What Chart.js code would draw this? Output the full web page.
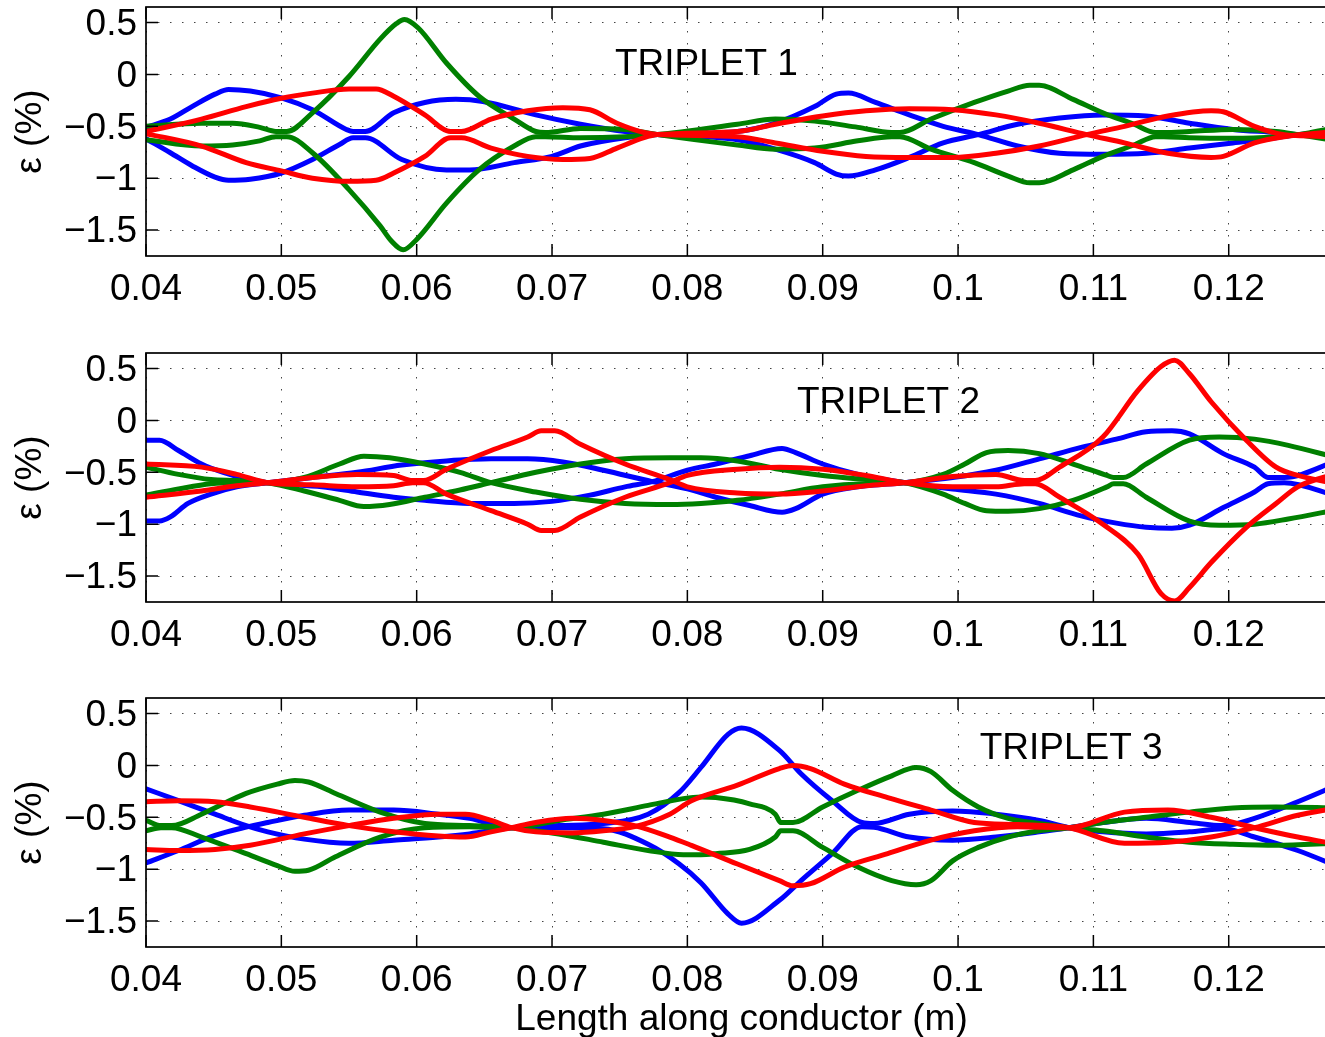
<!DOCTYPE html>
<html lang="en">
<head>
<meta charset="UTF-8">
<title>Strain along conductor</title>
<script src="https://cdn.jsdelivr.net/npm/chart.js"></script>
<style>
  html, body { margin: 0; padding: 0; background: #fff; overflow: hidden; }
  .panel { position: absolute; left: 0; width: 1337px; height: 346px; }
</style>
</head>
<body>
<div class="panel" style="top:0px"><canvas id="c1"></canvas></div>
<div class="panel" style="top:346px"><canvas id="c2"></canvas></div>
<div class="panel" style="top:691px"><canvas id="c3"></canvas></div>
<script>
// axis ticks shared by all three panels
const xTicks = [0.04, 0.05, 0.06, 0.07, 0.08, 0.09, 0.1, 0.11, 0.12];
const xTickLabels = ['0.04', '0.05', '0.06', '0.07', '0.08', '0.09', '0.1', '0.11', '0.12'];
const yTicks = [0.5, 0, -0.5, -1, -1.5];
const yTickLabels = ['0.5', '0', '\u22120.5', '\u22121', '\u22121.5'];
const xMin = 0.04, xMax = 0.128;
const yMin = -1.75, yMax = 0.65;

// triplet 1: [length (m), strain (%)]
const t1Blue1 = [[0.04,-0.51],[0.0418,-0.43],[0.0434,-0.31],[0.0451,-0.19],[0.0461,-0.145],[0.0477,-0.16],[0.05,-0.225],[0.0523,-0.34],[0.0548,-0.53],[0.0553,-0.55],[0.0562,-0.55],[0.0583,-0.37],[0.0606,-0.27],[0.0629,-0.24],[0.0649,-0.26],[0.0688,-0.39],[0.0721,-0.48],[0.0754,-0.55],[0.0778,-0.58],[0.0837,-0.63],[0.0865,-0.72],[0.0894,-0.85],[0.091,-0.96],[0.0919,-0.98],[0.0939,-0.92],[0.0964,-0.8],[0.0989,-0.66],[0.1015,-0.58],[0.1044,-0.48],[0.1075,-0.42],[0.1107,-0.39],[0.1139,-0.4],[0.1171,-0.47],[0.1203,-0.53],[0.1235,-0.56],[0.1251,-0.58],[0.128,-0.6]];
const t1Blue2 = [[0.04,-0.62],[0.0418,-0.755],[0.0434,-0.88],[0.0451,-0.99],[0.0461,-1.02],[0.0477,-1.01],[0.05,-0.95],[0.0523,-0.82],[0.0543,-0.675],[0.0553,-0.61],[0.0562,-0.61],[0.0589,-0.82],[0.0622,-0.92],[0.0639,-0.92],[0.0672,-0.85],[0.07,-0.79],[0.0721,-0.69],[0.0754,-0.61],[0.0778,-0.58],[0.0837,-0.55],[0.0865,-0.47],[0.0894,-0.31],[0.091,-0.19],[0.0919,-0.18],[0.0939,-0.27],[0.0964,-0.39],[0.0989,-0.5],[0.1015,-0.58],[0.1044,-0.69],[0.1075,-0.76],[0.1107,-0.77],[0.1139,-0.76],[0.1171,-0.71],[0.1203,-0.66],[0.1235,-0.61],[0.1251,-0.58],[0.128,-0.55]];
const t1Green1 = [[0.04,-0.5],[0.0441,-0.47],[0.0464,-0.47],[0.0484,-0.51],[0.0496,-0.55],[0.0504,-0.55],[0.0523,-0.37],[0.055,-0.02],[0.0573,0.34],[0.0585,0.49],[0.0591,0.53],[0.0601,0.45],[0.0622,0.11],[0.0646,-0.21],[0.0672,-0.43],[0.0688,-0.55],[0.0695,-0.56],[0.0721,-0.52],[0.0754,-0.53],[0.0778,-0.58],[0.0837,-0.68],[0.0865,-0.72],[0.0894,-0.71],[0.0926,-0.64],[0.0951,-0.6],[0.0957,-0.6],[0.098,-0.72],[0.1012,-0.85],[0.1037,-0.98],[0.1053,-1.045],[0.106,-1.045],[0.1085,-0.92],[0.1107,-0.79],[0.113,-0.68],[0.1146,-0.6],[0.1152,-0.6],[0.1171,-0.61],[0.1203,-0.615],[0.1235,-0.6],[0.1251,-0.58],[0.128,-0.51]];
const t1Green2 = [[0.04,-0.63],[0.0441,-0.69],[0.0464,-0.68],[0.0484,-0.64],[0.0496,-0.6],[0.0504,-0.6],[0.0523,-0.755],[0.055,-1.11],[0.0573,-1.46],[0.0581,-1.6],[0.059,-1.69],[0.06,-1.59],[0.0622,-1.24],[0.0646,-0.92],[0.0672,-0.69],[0.0688,-0.6],[0.0695,-0.6],[0.0721,-0.61],[0.0754,-0.6],[0.0778,-0.58],[0.0837,-0.48],[0.0865,-0.43],[0.0894,-0.45],[0.0926,-0.51],[0.0951,-0.56],[0.0957,-0.56],[0.098,-0.43],[0.1012,-0.27],[0.1037,-0.16],[0.1053,-0.105],[0.106,-0.105],[0.1085,-0.24],[0.1107,-0.37],[0.113,-0.48],[0.1146,-0.56],[0.1152,-0.56],[0.1171,-0.55],[0.1203,-0.53],[0.1235,-0.55],[0.1251,-0.58],[0.128,-0.64]];
const t1Red1 = [[0.04,-0.55],[0.0441,-0.43],[0.0474,-0.31],[0.05,-0.23],[0.0523,-0.18],[0.055,-0.14],[0.057,-0.14],[0.0583,-0.21],[0.0606,-0.39],[0.0625,-0.55],[0.0633,-0.55],[0.0655,-0.43],[0.0682,-0.35],[0.0708,-0.32],[0.0728,-0.34],[0.0748,-0.47],[0.0768,-0.56],[0.0778,-0.58],[0.0837,-0.6],[0.0865,-0.66],[0.09,-0.74],[0.0932,-0.79],[0.0964,-0.8],[0.0996,-0.8],[0.1028,-0.76],[0.106,-0.69],[0.1095,-0.58],[0.1123,-0.5],[0.1155,-0.4],[0.1187,-0.35],[0.1196,-0.36],[0.1219,-0.5],[0.1241,-0.58],[0.128,-0.6]];
const t1Red2 = [[0.04,-0.57],[0.0441,-0.69],[0.0474,-0.85],[0.05,-0.93],[0.0523,-1.0],[0.055,-1.03],[0.057,-1.02],[0.0583,-0.95],[0.0606,-0.79],[0.0625,-0.61],[0.0633,-0.61],[0.0655,-0.71],[0.0682,-0.79],[0.0708,-0.82],[0.0728,-0.81],[0.0748,-0.71],[0.0768,-0.61],[0.0778,-0.58],[0.0837,-0.55],[0.0865,-0.48],[0.09,-0.4],[0.0932,-0.35],[0.0964,-0.33],[0.0996,-0.34],[0.1028,-0.39],[0.106,-0.47],[0.1095,-0.58],[0.1123,-0.66],[0.1155,-0.76],[0.1187,-0.8],[0.1196,-0.79],[0.1219,-0.66],[0.1241,-0.6],[0.128,-0.55]];

// triplet 2
const t2Blue1 = [[0.04,-0.19],[0.041,-0.19],[0.0424,-0.29],[0.0441,-0.42],[0.0457,-0.5],[0.0474,-0.56],[0.049,-0.6],[0.053,-0.64],[0.0556,-0.69],[0.0583,-0.74],[0.0606,-0.77],[0.0639,-0.8],[0.0672,-0.8],[0.07,-0.78],[0.0728,-0.72],[0.0754,-0.64],[0.0774,-0.59],[0.08,-0.48],[0.0821,-0.42],[0.0846,-0.34],[0.087,-0.27],[0.088,-0.31],[0.09,-0.42],[0.0926,-0.52],[0.0961,-0.6],[0.0996,-0.66],[0.1028,-0.71],[0.106,-0.8],[0.1091,-0.92],[0.1117,-0.99],[0.1139,-1.03],[0.1158,-1.04],[0.1171,-1.01],[0.1196,-0.84],[0.1219,-0.69],[0.1229,-0.61],[0.1241,-0.6],[0.128,-0.73]];
const t2Blue2 = [[0.04,-0.97],[0.041,-0.97],[0.0418,-0.93],[0.0431,-0.8],[0.0448,-0.71],[0.0467,-0.64],[0.049,-0.6],[0.0523,-0.55],[0.0556,-0.5],[0.0589,-0.43],[0.0622,-0.39],[0.0655,-0.37],[0.0682,-0.37],[0.0708,-0.4],[0.0738,-0.48],[0.0774,-0.59],[0.08,-0.66],[0.0821,-0.74],[0.0846,-0.82],[0.087,-0.885],[0.088,-0.85],[0.09,-0.71],[0.0926,-0.64],[0.0961,-0.6],[0.0996,-0.55],[0.1028,-0.48],[0.106,-0.37],[0.1091,-0.26],[0.1117,-0.18],[0.1139,-0.11],[0.1158,-0.1],[0.1171,-0.13],[0.1196,-0.32],[0.1219,-0.45],[0.1229,-0.55],[0.1241,-0.55],[0.128,-0.39]];
const t2Green1 = [[0.04,-0.45],[0.0424,-0.52],[0.0448,-0.57],[0.0467,-0.58],[0.049,-0.6],[0.0517,-0.68],[0.0543,-0.77],[0.0561,-0.83],[0.058,-0.81],[0.0606,-0.74],[0.0632,-0.67],[0.0655,-0.6],[0.0688,-0.5],[0.0721,-0.42],[0.0754,-0.37],[0.0787,-0.36],[0.081,-0.36],[0.0837,-0.39],[0.0868,-0.47],[0.09,-0.53],[0.0932,-0.57],[0.0961,-0.6],[0.0989,-0.71],[0.1005,-0.8],[0.1021,-0.87],[0.1037,-0.875],[0.106,-0.85],[0.1085,-0.77],[0.111,-0.64],[0.1115,-0.61],[0.1122,-0.61],[0.1139,-0.74],[0.1171,-0.97],[0.1193,-1.01],[0.1219,-1.0],[0.1244,-0.95],[0.128,-0.86]];
const t2Green2 = [[0.04,-0.72],[0.0424,-0.66],[0.0448,-0.61],[0.0467,-0.6],[0.049,-0.6],[0.0517,-0.55],[0.0543,-0.42],[0.0561,-0.345],[0.058,-0.36],[0.0606,-0.42],[0.0632,-0.5],[0.0655,-0.6],[0.0688,-0.69],[0.0721,-0.76],[0.0754,-0.8],[0.0787,-0.81],[0.081,-0.8],[0.0837,-0.77],[0.0868,-0.71],[0.09,-0.64],[0.0932,-0.61],[0.0961,-0.6],[0.0989,-0.52],[0.1005,-0.42],[0.1021,-0.31],[0.1037,-0.29],[0.106,-0.32],[0.1085,-0.42],[0.111,-0.53],[0.1115,-0.55],[0.1122,-0.55],[0.1139,-0.42],[0.1171,-0.19],[0.1193,-0.16],[0.1219,-0.18],[0.1244,-0.24],[0.128,-0.36]];
const t2Red1 = [[0.04,-0.42],[0.0441,-0.45],[0.0467,-0.52],[0.049,-0.6],[0.0523,-0.62],[0.0556,-0.64],[0.0583,-0.63],[0.0597,-0.6],[0.0605,-0.6],[0.0622,-0.71],[0.0655,-0.87],[0.0682,-1.0],[0.0692,-1.06],[0.0702,-1.06],[0.0721,-0.93],[0.0754,-0.74],[0.0787,-0.6],[0.08,-0.53],[0.0837,-0.47],[0.0868,-0.45],[0.09,-0.47],[0.0932,-0.53],[0.0961,-0.6],[0.0996,-0.64],[0.1028,-0.64],[0.1049,-0.61],[0.1057,-0.61],[0.1075,-0.74],[0.1107,-1.0],[0.1133,-1.29],[0.115,-1.67],[0.116,-1.74],[0.1171,-1.61],[0.1187,-1.37],[0.1213,-1.03],[0.1235,-0.8],[0.1251,-0.64],[0.128,-0.51]];
const t2Red2 = [[0.04,-0.74],[0.0441,-0.68],[0.0467,-0.63],[0.049,-0.6],[0.0523,-0.55],[0.0556,-0.52],[0.0583,-0.53],[0.0597,-0.58],[0.0605,-0.58],[0.0622,-0.47],[0.0655,-0.29],[0.0682,-0.16],[0.0692,-0.1],[0.0702,-0.1],[0.0721,-0.23],[0.0754,-0.42],[0.0787,-0.57],[0.08,-0.64],[0.0837,-0.7],[0.0868,-0.71],[0.09,-0.68],[0.0932,-0.63],[0.0961,-0.6],[0.0996,-0.54],[0.1028,-0.52],[0.1049,-0.58],[0.1057,-0.58],[0.1075,-0.45],[0.1107,-0.16],[0.1133,0.29],[0.115,0.52],[0.116,0.58],[0.1171,0.45],[0.1187,0.18],[0.1213,-0.19],[0.1235,-0.45],[0.1251,-0.53],[0.128,-0.61]];

// triplet 3
const t3Blue1 = [[0.04,-0.225],[0.0424,-0.34],[0.0451,-0.47],[0.0474,-0.58],[0.049,-0.64],[0.0517,-0.71],[0.055,-0.75],[0.0583,-0.72],[0.0616,-0.69],[0.0639,-0.66],[0.067,-0.6],[0.0705,-0.58],[0.0738,-0.56],[0.0771,-0.47],[0.0794,-0.26],[0.081,-0.02],[0.083,0.3],[0.084,0.36],[0.0868,0.145],[0.0884,-0.08],[0.0907,-0.34],[0.0929,-0.55],[0.0938,-0.56],[0.0964,-0.47],[0.0996,-0.44],[0.1028,-0.47],[0.106,-0.53],[0.1082,-0.6],[0.1107,-0.64],[0.1139,-0.66],[0.1171,-0.64],[0.1196,-0.61],[0.1219,-0.69],[0.1251,-0.82],[0.128,-0.97]];
const t3Blue2 = [[0.04,-0.94],[0.0424,-0.82],[0.0451,-0.675],[0.0474,-0.595],[0.049,-0.55],[0.0517,-0.48],[0.055,-0.43],[0.0583,-0.43],[0.0616,-0.47],[0.0639,-0.51],[0.067,-0.6],[0.0705,-0.6],[0.0738,-0.61],[0.0771,-0.76],[0.0794,-0.95],[0.081,-1.13],[0.083,-1.43],[0.084,-1.52],[0.0868,-1.3],[0.0884,-1.11],[0.0907,-0.85],[0.0929,-0.59],[0.0938,-0.595],[0.0964,-0.69],[0.0996,-0.72],[0.1028,-0.69],[0.106,-0.64],[0.1082,-0.6],[0.1107,-0.55],[0.1139,-0.51],[0.1171,-0.55],[0.1196,-0.58],[0.1219,-0.51],[0.1251,-0.35],[0.128,-0.19]];
const t3Green1 = [[0.04,-0.53],[0.0411,-0.58],[0.0419,-0.58],[0.0441,-0.47],[0.0474,-0.27],[0.0497,-0.18],[0.051,-0.145],[0.052,-0.16],[0.054,-0.27],[0.0573,-0.45],[0.0606,-0.56],[0.0639,-0.58],[0.067,-0.6],[0.0705,-0.66],[0.0738,-0.74],[0.0771,-0.82],[0.0797,-0.86],[0.081,-0.86],[0.0821,-0.85],[0.0846,-0.81],[0.0865,-0.69],[0.0869,-0.63],[0.0878,-0.63],[0.09,-0.79],[0.0926,-0.98],[0.0951,-1.11],[0.0969,-1.15],[0.098,-1.11],[0.0996,-0.92],[0.1015,-0.79],[0.1037,-0.69],[0.106,-0.63],[0.1082,-0.6],[0.1107,-0.55],[0.1139,-0.5],[0.1171,-0.45],[0.1203,-0.41],[0.1235,-0.4],[0.128,-0.41]];
const t3Green2 = [[0.04,-0.63],[0.0411,-0.6],[0.0419,-0.6],[0.0441,-0.69],[0.0474,-0.85],[0.0497,-0.965],[0.051,-1.02],[0.052,-1.01],[0.054,-0.88],[0.0573,-0.69],[0.0606,-0.6],[0.0639,-0.59],[0.067,-0.6],[0.0705,-0.53],[0.0738,-0.47],[0.0771,-0.385],[0.0797,-0.32],[0.081,-0.305],[0.0821,-0.31],[0.0846,-0.37],[0.0865,-0.47],[0.0869,-0.55],[0.0878,-0.55],[0.09,-0.4],[0.0926,-0.24],[0.0951,-0.1],[0.0969,-0.02],[0.098,-0.06],[0.0996,-0.24],[0.1015,-0.4],[0.1037,-0.51],[0.106,-0.56],[0.1082,-0.6],[0.1107,-0.63],[0.1139,-0.69],[0.1171,-0.74],[0.1203,-0.76],[0.1235,-0.77],[0.128,-0.75]];
const t3Red1 = [[0.04,-0.35],[0.0424,-0.34],[0.0451,-0.35],[0.0477,-0.4],[0.0517,-0.5],[0.055,-0.58],[0.0583,-0.64],[0.0616,-0.68],[0.0636,-0.69],[0.0655,-0.64],[0.067,-0.6],[0.0688,-0.55],[0.0715,-0.51],[0.0738,-0.53],[0.0761,-0.58],[0.0787,-0.69],[0.0803,-0.77],[0.0837,-0.95],[0.0868,-1.11],[0.0878,-1.16],[0.0891,-1.14],[0.0916,-0.98],[0.0948,-0.85],[0.098,-0.72],[0.1012,-0.63],[0.1044,-0.59],[0.1082,-0.6],[0.1123,-0.45],[0.1155,-0.43],[0.1187,-0.5],[0.1219,-0.6],[0.1251,-0.69],[0.128,-0.76]];
const t3Red2 = [[0.04,-0.81],[0.0424,-0.82],[0.0451,-0.81],[0.0477,-0.77],[0.0517,-0.66],[0.055,-0.58],[0.0583,-0.51],[0.0616,-0.47],[0.0636,-0.47],[0.0655,-0.53],[0.067,-0.6],[0.0688,-0.64],[0.0715,-0.65],[0.0738,-0.63],[0.0761,-0.59],[0.0787,-0.47],[0.0803,-0.34],[0.0837,-0.19],[0.0868,-0.03],[0.0878,0.0],[0.0891,-0.03],[0.0916,-0.18],[0.0948,-0.31],[0.098,-0.43],[0.1012,-0.55],[0.1044,-0.57],[0.1082,-0.6],[0.1123,-0.75],[0.1155,-0.74],[0.1187,-0.69],[0.1219,-0.6],[0.1251,-0.48],[0.128,-0.41]];

const tripletNames = ['TRIPLET 1', 'TRIPLET 2', 'TRIPLET 3'];
// where each panel caption sits, in data units (left edge, vertical middle)
const captionAt = [[0.07465, 0.09], [0.0881, 0.17], [0.1016, 0.16]];

const FONT = '"Liberation Sans", Arial, Helvetica, sans-serif';
const BLUE = '#0000ff', GREEN = '#008000', RED = '#ff0000';

// box around the axes, inward tick marks and the panel caption
const axesBox = {
  id: 'axesBox',
  afterDatasetsDraw(chart, args, opts) {
    const { ctx, chartArea: a, scales: { x, y } } = chart;
    const tl = 12;
    ctx.save();
    ctx.strokeStyle = '#000';
    ctx.lineWidth = 1.5;
    ctx.beginPath();
    x.ticks.forEach(t => {
      const px = x.getPixelForValue(t.value);
      ctx.moveTo(px, a.bottom); ctx.lineTo(px, a.bottom - tl);
      ctx.moveTo(px, a.top); ctx.lineTo(px, a.top + tl);
    });
    y.ticks.forEach(t => {
      const py = y.getPixelForValue(t.value);
      ctx.moveTo(a.left, py); ctx.lineTo(a.left + tl, py);
      ctx.moveTo(a.right, py); ctx.lineTo(a.right - tl, py);
    });
    ctx.stroke();
    ctx.lineWidth = 1.7;
    ctx.strokeRect(a.left, a.top, a.right - a.left, a.bottom - a.top);

    ctx.fillStyle = '#000';
    ctx.font = '37px ' + FONT;
    ctx.textAlign = 'left';
    ctx.textBaseline = 'middle';
    ctx.fillText(opts.text, x.getPixelForValue(opts.at[0]), y.getPixelForValue(opts.at[1]));
    ctx.restore();
  }
};

function line(points, color, order) {
  return {
    data: points.map(p => ({ x: p[0], y: p[1] })),
    borderColor: color,
    borderWidth: 5,
    pointRadius: 0,
    fill: false,
    cubicInterpolationMode: 'monotone',
    borderJoinStyle: 'round',
    borderCapStyle: 'round',
    order: order
  };
}

function makePanel(id, series, idx, showXTitle) {
  const grid = { color: '#444', lineWidth: 1, drawTicks: false };
  const border = { display: false, dash: [1.5, 10.5] };
  const tickFont = { family: FONT, size: 37 };
  new Chart(document.getElementById(id), {
    type: 'line',
    data: {
      datasets: [
        line(series[0], BLUE, 3), line(series[1], BLUE, 3),
        line(series[2], GREEN, 2), line(series[3], GREEN, 2),
        line(series[4], RED, 1), line(series[5], RED, 1)
      ]
    },
    options: {
      responsive: true,
      maintainAspectRatio: false,
      animation: false,
      devicePixelRatio: 1,
      events: [],
      layout: { padding: { top: 7, left: 0, right: 0, bottom: 0 } },
      plugins: {
        legend: { display: false },
        tooltip: { enabled: false },
        axesBox: { text: tripletNames[idx], at: captionAt[idx] }
      },
      scales: {
        x: {
          type: 'linear',
          min: xMin, max: xMax,
          afterBuildTicks: s => { s.ticks = xTicks.map(v => ({ value: v })); },
          afterFit: s => {
            s.height = 90;
            s.paddingLeft = 0;
            s.paddingRight = 0;
          },
          grid: grid,
          border: border,
          ticks: {
            color: '#000', font: tickFont, padding: 12,
            autoSkip: false, maxRotation: 0,
            callback: (v, i) => xTickLabels[i]
          },
          title: {
            display: showXTitle,
            text: 'Length along conductor (m)',
            color: '#000', font: { family: FONT, size: 37, lineHeight: 0.94 },
            padding: { top: 0, bottom: 0 }
          }
        },
        y: {
          type: 'linear',
          min: yMin, max: yMax,
          afterBuildTicks: s => { s.ticks = yTicks.map(v => ({ value: v })); },
          afterFit: s => {
            s.width = 146;
            s.paddingTop = 0;
            s.paddingBottom = 0;
          },
          grid: grid,
          border: border,
          ticks: {
            color: '#000', font: tickFont, padding: 9, labelOffset: 2,
            autoSkip: false,
            callback: (v, i) => yTickLabels[i]
          },
          title: {
            display: true,
            text: '\u03b5 (%)',
            color: '#000', font: tickFont,
            padding: { top: 9, bottom: 0 }
          }
        }
      }
    },
    plugins: [axesBox]
  });
}

makePanel('c1', [t1Blue1, t1Blue2, t1Green1, t1Green2, t1Red1, t1Red2], 0, false);
makePanel('c2', [t2Blue1, t2Blue2, t2Green1, t2Green2, t2Red1, t2Red2], 1, false);
makePanel('c3', [t3Blue1, t3Blue2, t3Green1, t3Green2, t3Red1, t3Red2], 2, true);
</script>
</body>
</html>
